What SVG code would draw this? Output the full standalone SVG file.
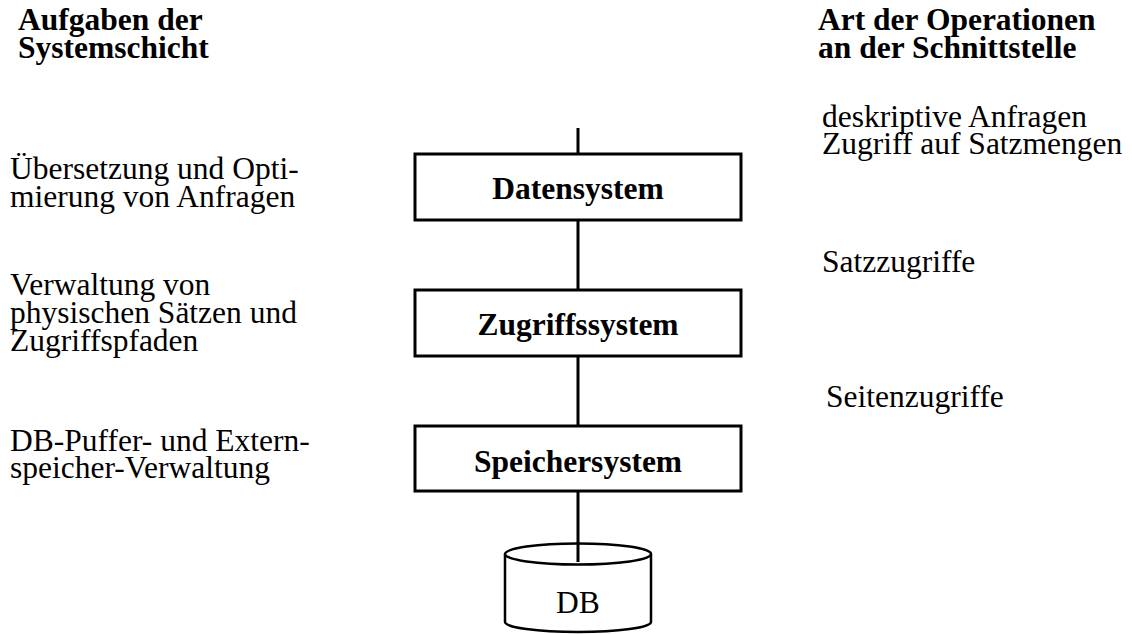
<svg xmlns="http://www.w3.org/2000/svg" width="1132" height="634" viewBox="0 0 1132 634" font-family="Liberation Serif, Times New Roman, Tinos, Nimbus Roman, DejaVu Serif, serif">
  <style>
    text { font-family: 'Liberation Serif', 'Times New Roman', Tinos, 'Nimbus Roman', 'DejaVu Serif', serif; font-size: 31.5px; fill: #000; }
    .bold { font-weight: bold; }
    .box { fill: #fff; stroke: #000; stroke-width: 3; }
    .conn { stroke: #000; stroke-width: 3; fill: none; }
    .cyl { fill: #fff; stroke: #000; stroke-width: 2.5; }
  </style>
  <rect width="1132" height="634" fill="#fff"/>

  <!-- column headings -->
  <g id="heading-left">
    <text class="bold" x="18" y="30">Aufgaben der</text>
    <text class="bold" x="18" y="58">Systemschicht</text>
  </g>
  <g id="heading-right">
    <text class="bold" x="818" y="30">Art der Operationen</text>
    <text class="bold" x="818" y="58">an der Schnittstelle</text>
  </g>

  <!-- connectors between the layers -->
  <g id="connectors">
    <line class="conn" x1="578" y1="128" x2="578" y2="154"/>
    <line class="conn" x1="578" y1="220" x2="578" y2="290"/>
    <line class="conn" x1="578" y1="356" x2="578" y2="426"/>
    <line class="conn" x1="578" y1="491" x2="578" y2="544"/>
  </g>

  <!-- layer boxes -->
  <g id="datensystem">
    <rect class="box" x="415" y="154" width="326" height="66"/>
    <text class="bold" x="578" y="199" text-anchor="middle">Datensystem</text>
  </g>
  <g id="zugriffssystem">
    <rect class="box" x="415" y="290" width="326" height="66"/>
    <text class="bold" x="578" y="335" text-anchor="middle">Zugriffssystem</text>
  </g>
  <g id="speichersystem">
    <rect class="box" x="415" y="426" width="326" height="65"/>
    <text class="bold" x="578" y="472" text-anchor="middle">Speichersystem</text>
  </g>

  <!-- database cylinder -->
  <g id="db">
    <path class="cyl" d="M505,554 L505,622 A73,10 0 0 0 651,622 L651,554"/>
    <ellipse class="cyl" cx="578" cy="554" rx="73" ry="10.5"/>
    <line class="conn" x1="578" y1="542" x2="578" y2="562"/>
    <text x="578" y="613" text-anchor="middle">DB</text>
  </g>

  <!-- tasks of each layer -->
  <g id="task-daten">
    <text x="10" y="179">Übersetzung und Opti-</text>
    <text x="10" y="207">mierung von Anfragen</text>
  </g>
  <g id="task-zugriff">
    <text x="10" y="295">Verwaltung von</text>
    <text x="10" y="323">physischen Sätzen und</text>
    <text x="10" y="351">Zugriffspfaden</text>
  </g>
  <g id="task-speicher">
    <text x="10" y="451">DB-Puffer- und Extern-</text>
    <text x="10" y="478">speicher-Verwaltung</text>
  </g>

  <!-- operations at each interface -->
  <g id="op-daten">
    <text x="822" y="127">deskriptive Anfragen</text>
    <text x="822" y="154">Zugriff auf Satzmengen</text>
  </g>
  <g id="op-zugriff">
    <text x="822" y="272">Satzzugriffe</text>
  </g>
  <g id="op-speicher">
    <text x="826" y="407">Seitenzugriffe</text>
  </g>
</svg>
